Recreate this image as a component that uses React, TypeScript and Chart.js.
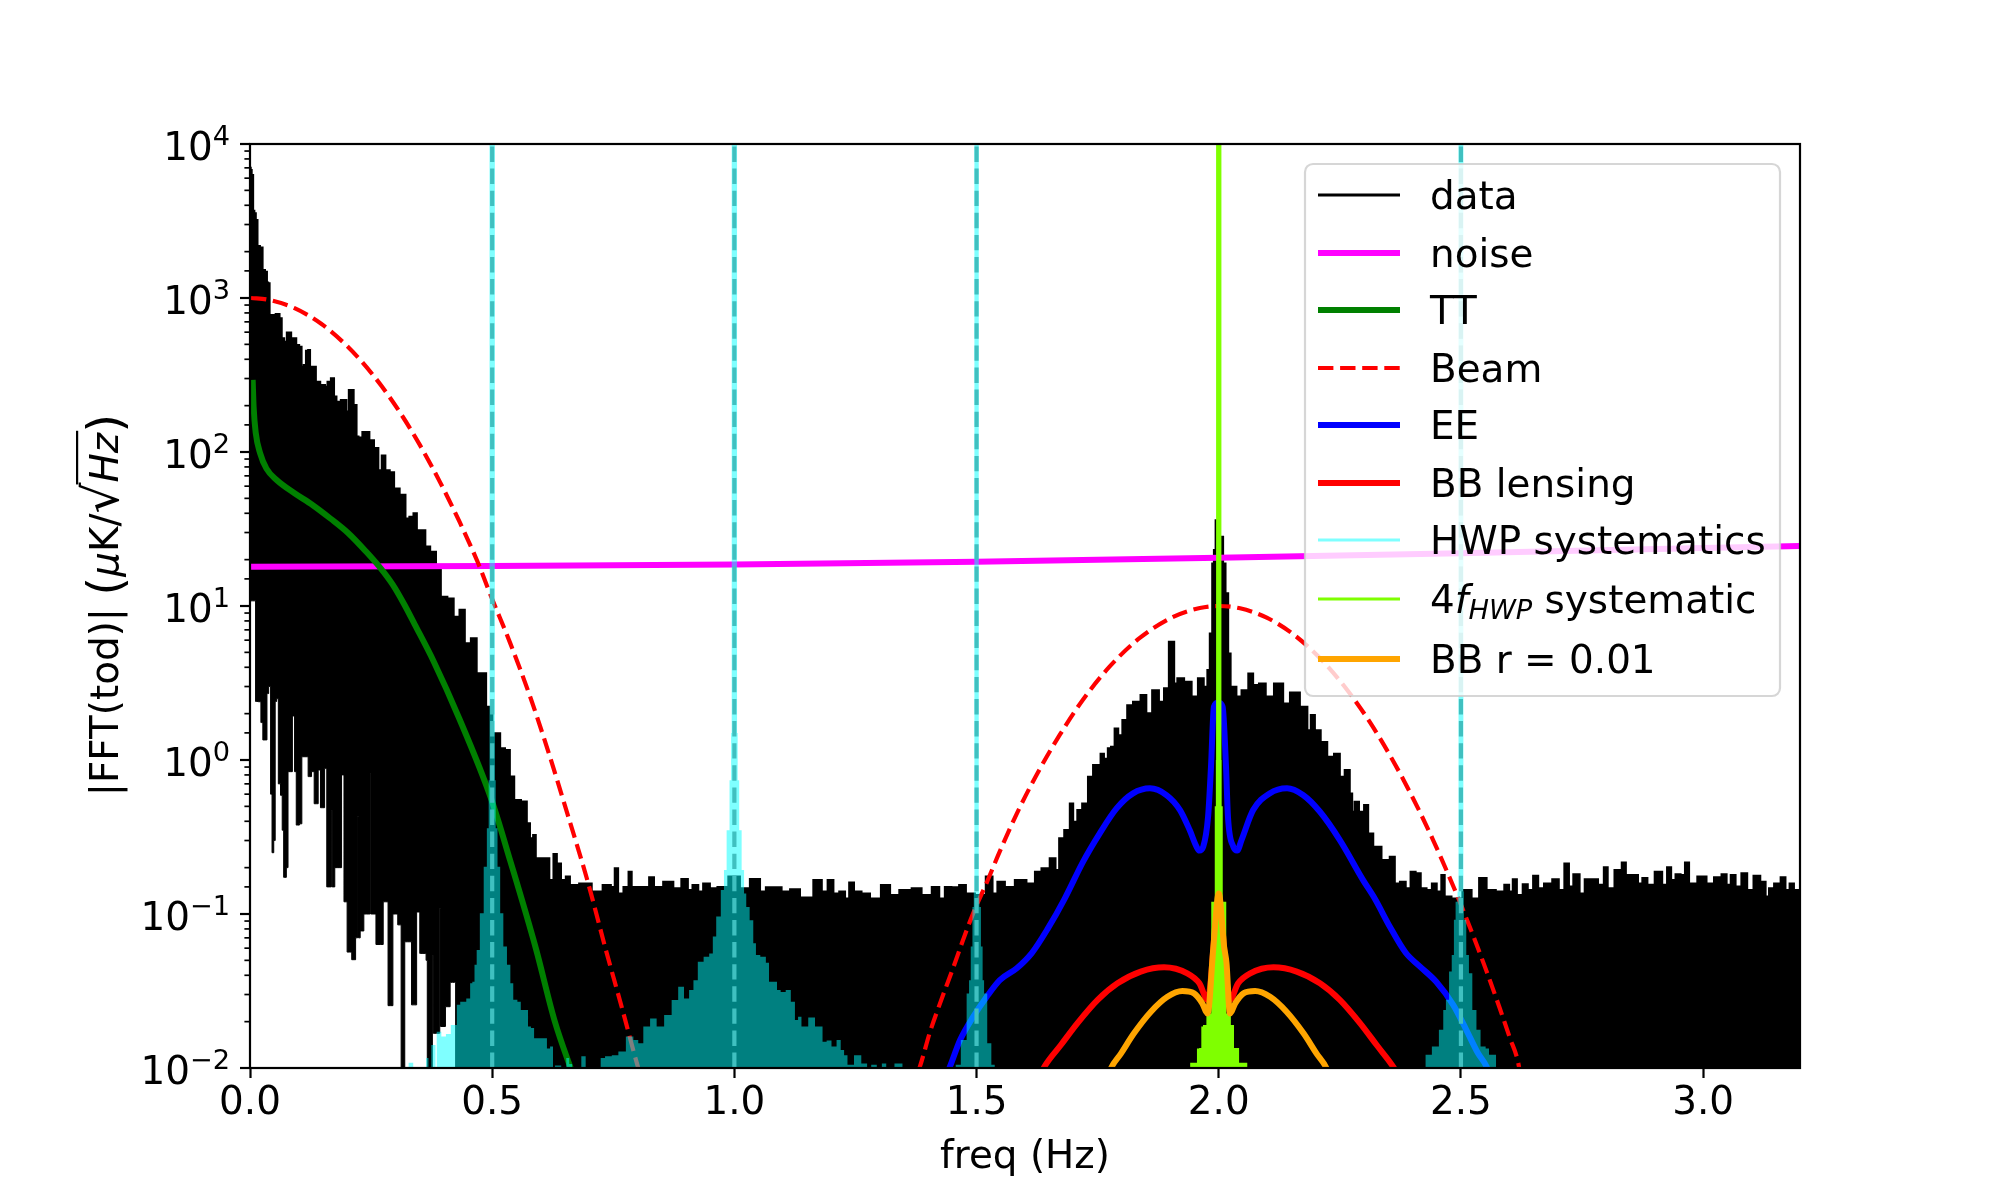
import { useEffect, useRef } from "react"
import Chart from "chart.js/auto"

const FONT = "'DejaVu Sans'"
const FONT_PX = 38.9

// upper edge of the black "data" band
const dataFreq = [
  0.001, 0.002, 0.005, 0.008, 0.010, 0.014, 0.017, 0.024, 0.028, 0.034, 0.036, 0.039, 0.042, 0.048, 0.058, 0.064,
  0.067, 0.074, 0.078, 0.083, 0.087, 0.093, 0.098, 0.105, 0.108, 0.114, 0.117, 0.123, 0.125, 0.134, 0.138, 0.152,
  0.158, 0.162, 0.172, 0.175, 0.182, 0.193, 0.195, 0.196, 0.202, 0.206, 0.213, 0.215, 0.219, 0.221, 0.227, 0.237,
  0.244, 0.249, 0.263, 0.267, 0.277, 0.282, 0.295, 0.300, 0.318, 0.324, 0.334, 0.341, 0.348, 0.359, 0.365, 0.379,
  0.389, 0.399, 0.416, 0.425, 0.440, 0.447, 0.465, 0.471, 0.480, 0.495, 0.506, 0.513, 0.520, 0.533, 0.540, 0.551,
  0.568, 0.575, 0.581, 0.588, 0.592, 0.613, 0.623, 0.630, 0.637, 0.647, 0.657, 0.664, 0.695, 0.716, 0.740, 0.750,
  0.756, 0.764, 0.778, 0.785, 0.791, 0.805, 0.819, 0.829, 0.839, 0.867, 0.881, 0.900, 0.908, 0.919, 0.932, 0.939,
  0.960, 0.970, 1.005, 1.018, 1.046, 1.060, 1.070, 1.087, 1.108, 1.122, 1.149, 1.177, 1.184, 1.201, 1.208, 1.225,
  1.232, 1.242, 1.252, 1.273, 1.287, 1.318, 1.325, 1.356, 1.376, 1.397, 1.418, 1.428, 1.441, 1.455, 1.473, 1.483,
  1.510, 1.528, 1.538, 1.548, 1.569, 1.589, 1.617, 1.624, 1.644, 1.658, 1.668, 1.673, 1.689, 1.696, 1.703, 1.713,
  1.723, 1.737, 1.744, 1.754, 1.758, 1.768, 1.774, 1.781, 1.789, 1.796, 1.806, 1.816, 1.830, 1.847, 1.854, 1.871,
  1.882, 1.892, 1.902, 1.907, 1.909, 1.920, 1.937, 1.951, 1.963, 1.975, 1.978, 1.985, 1.988, 1.992, 1.995, 2.006,
  2.012, 2.016, 2.023, 2.026, 2.033, 2.040, 2.054, 2.068, 2.074, 2.092, 2.102, 2.126, 2.140, 2.154, 2.181, 2.185,
  2.195, 2.202, 2.219, 2.229, 2.247, 2.253, 2.267, 2.274, 2.277, 2.284, 2.295, 2.305, 2.312, 2.326, 2.346, 2.360,
  2.367, 2.381, 2.391, 2.401, 2.412, 2.422, 2.436, 2.444, 2.456, 2.463, 2.470, 2.491, 2.515, 2.529, 2.546, 2.560,
  2.584, 2.595, 2.604, 2.610, 2.621, 2.634, 2.642, 2.656, 2.663, 2.680, 2.697, 2.707, 2.720, 2.726, 2.738, 2.752,
  2.759, 2.776, 2.790, 2.800, 2.806, 2.828, 2.836, 2.845, 2.862, 2.869, 2.880, 2.890, 2.910, 2.921, 2.930, 2.938,
  2.948, 2.959, 2.966, 2.976, 3.000, 3.014, 3.031, 3.045, 3.052, 3.062, 3.072, 3.086, 3.096, 3.112, 3.124, 3.134,
  3.138, 3.155, 3.165, 3.175, 3.182, 3.193, 3.200,
]
const dataTop = [
  7000, 6780, 6300, 3690, 3550, 3210, 2180, 2130, 1520, 1480, 1260, 1245, 776, 776, 787, 738,
  547, 520, 596, 596, 547, 547, 495, 483, 358, 367, 455, 459, 358, 358, 286, 272,
  265, 286, 301, 229, 212, 218, 169, 218, 183, 253, 253, 202, 202, 126, 124, 135,
  135, 119, 106, 76, 95, 76, 74, 58, 52.7, 37, 38, 40, 31, 31, 24.3, 22.5,
  17.6, 11.5, 11.2, 8.53, 9.44, 5.73, 6.17, 3.66, 3.66, 2.22, 1.49, 1.49, 1.19, 1.16, 0.78, 0.55,
  0.537, 0.388, 0.31, 0.326, 0.23, 0.23, 0.166, 0.245, 0.213, 0.166, 0.175, 0.154, 0.158, 0.14, 0.154, 0.15,
  0.198, 0.136, 0.15, 0.188, 0.15, 0.15, 0.15, 0.173, 0.15, 0.162, 0.147, 0.169, 0.143, 0.154, 0.14, 0.158,
  0.147, 0.15, 0.175, 0.147, 0.169, 0.14, 0.149, 0.149, 0.14, 0.145, 0.128, 0.166, 0.14, 0.166, 0.136, 0.14,
  0.126, 0.16, 0.14, 0.136, 0.126, 0.154, 0.133, 0.143, 0.147, 0.133, 0.15, 0.126, 0.15, 0.149, 0.154, 0.136,
  0.133, 0.175, 0.136, 0.162, 0.15, 0.166, 0.158, 0.188, 0.198, 0.23, 0.193, 0.31, 0.351, 0.522, 0.397, 0.473,
  0.522, 0.778, 0.927, 0.927, 1.1, 1.02, 1.19, 1.22, 1.6, 1.45, 1.82, 2.27, 2.39, 2.64, 2.01, 2.84,
  2.39, 2.92, 5.86, 5.86, 3.14, 3.39, 3.22, 2.58, 3.39, 2.99, 3.84, 6.64, 18.9, 23.1, 36.1, 28.2,
  18.9, 12.1, 4.92, 2.99, 2.99, 2.58, 2.84, 3.65, 3.07, 3.14, 2.58, 3.14, 2.33, 2.74, 2.22, 1.56,
  1.96, 1.56, 1.31, 1.05, 1.1, 0.778, 0.861, 0.607, 0.461, 0.536, 0.461, 0.51, 0.333, 0.273, 0.224, 0.235,
  0.158, 0.162, 0.147, 0.188, 0.184, 0.147, 0.143, 0.158, 0.14, 0.179, 0.13, 0.126, 0.143, 0.126, 0.171, 0.143,
  0.14, 0.155, 0.14, 0.168, 0.133, 0.156, 0.143, 0.177, 0.147, 0.158, 0.168, 0.143, 0.213, 0.151, 0.181, 0.136,
  0.168, 0.168, 0.155, 0.201, 0.147, 0.193, 0.216, 0.179, 0.179, 0.158, 0.171, 0.155, 0.188, 0.155, 0.201, 0.166,
  0.181, 0.179, 0.216, 0.158, 0.175, 0.158, 0.173, 0.181, 0.155, 0.179, 0.151, 0.184, 0.143, 0.177, 0.162, 0.13,
  0.147, 0.158, 0.173, 0.143, 0.158, 0.143, 0.143,
]

// lower edge of the same band, the white notches at low frequency
const notchFreq = [
  0.001, 0.010, 0.013, 0.021, 0.024, 0.029, 0.034, 0.036, 0.041, 0.044, 0.047, 0.051, 0.053, 0.057, 0.060, 0.066,
  0.067, 0.072, 0.078, 0.079, 0.087, 0.088, 0.091, 0.093, 0.098, 0.106, 0.108, 0.119, 0.121, 0.126, 0.128, 0.131,
  0.134, 0.140, 0.1415, 0.144, 0.147, 0.153, 0.155, 0.157, 0.160, 0.167, 0.169, 0.170, 0.180, 0.188, 0.190, 0.192,
  0.196, 0.205, 0.215, 0.221, 0.223, 0.225, 0.230, 0.240, 0.2475, 0.249, 0.250, 0.270, 0.280, 0.290, 0.300, 0.310,
  0.314, 0.318, 0.321, 0.330, 0.337, 0.343, 0.345, 0.349, 0.352, 0.362, 0.365, 0.367, 0.376, 0.377, 0.379, 0.391,
  0.3925, 0.394, 0.403, 0.404, 0.413, 0.4135, 0.4225, 0.4265, 3.200,
]
const notchLow = [
  10.8, 10.8, 2.4, 2.39, 1.75, 1.35, 1.35, 2.7, 3.0, 0.6, 0.25, 0.3, 2.4, 2.5, 0.7, 0.59,
  0.35, 0.173, 0.2, 0.84, 0.84, 1.93, 1.93, 0.84, 0.378, 0.385, 1.05, 1.05, 0.78, 0.78, 0.84, 0.84,
  0.52, 0.52, 0.86, 0.86, 0.49, 0.49, 0.88, 0.88, 0.15, 0.15, 0.47, 0.15, 0.2, 0.2, 0.8, 0.8,
  0.12, 0.0566, 0.0505, 0.07, 0.43, 0.07, 0.0776, 0.1, 0.1, 0.82, 0.1, 0.0634, 0.12, 0.0254, 0.1, 0.085,
  0.0095, 0.0095, 0.066, 0.066, 0.0257, 0.0257, 0.103, 0.103, 0.0555, 0.0555, 0.05, 0.0095, 0.0095, 0.054, 0.0168, 0.0168,
  0.109, 0.0186, 0.0186, 0.025, 0.025, 0.036, 0.036, 0.009, 0.009,
]

const noiseFreq = [0, 0.5, 1, 1.5, 2, 2.5, 3, 3.2]
const noiseVals = [18, 18.2, 18.6, 19.4, 20.6, 22, 23.8, 24.5]

const ttFreq = [
  0.0055, 0.0074, 0.012, 0.021, 0.034, 0.055, 0.092, 0.129, 0.166, 0.203, 0.24, 0.267, 0.295, 0.318, 0.34, 0.379,
  0.432, 0.498, 0.537, 0.59, 0.629, 0.662, 0.68,
]
const ttVals = [
  294, 197, 132, 98, 78, 65.8, 54, 45.3, 37, 29.7, 22.5, 18, 13.7, 10.3, 7.6, 4.38,
  1.86, 0.558, 0.223, 0.06, 0.0202, 0.01, 0.007,
]

const beamFreq = [
  0.002, 0.037, 0.092, 0.147, 0.194, 0.23, 0.272, 0.309, 0.35, 0.392, 0.433, 0.47, 0.498, 0.537, 0.577, 0.616,
  0.656, 0.695, 0.735, 0.768, 0.8, 0.814, 1.376, 1.383, 1.404, 1.424, 1.452, 1.473, 1.493, 1.521, 1.548, 1.589,
  1.631, 1.672, 1.72, 1.775, 1.837, 1.906, 1.961, 1.999, 2.044, 2.099, 2.154, 2.209, 2.264, 2.312, 2.36, 2.401,
  2.443, 2.484, 2.501, 2.525, 2.553, 2.58, 2.601, 2.618, 2.625,
]
const beamVals = [
  1000, 975, 859, 680, 510, 389, 267, 182, 112, 64, 35, 19.3, 11.5, 5.76, 2.65, 1.13,
  0.44, 0.172, 0.058, 0.0245, 0.0104, 0.0075, 0.009, 0.0102, 0.0172, 0.026, 0.045, 0.069, 0.101, 0.16, 0.255, 0.49,
  0.88, 1.46, 2.47, 4.05, 6.2, 8.5, 9.7, 10, 9.66, 8.4, 6.55, 4.58, 2.88, 1.76, 0.986, 0.565,
  0.3, 0.152, 0.113, 0.0726, 0.0424, 0.0245, 0.0157, 0.0109, 0.008,
]

const eeFreq = [
  1.43, 1.445, 1.466, 1.493, 1.521, 1.548, 1.583, 1.614, 1.647, 1.682, 1.72, 1.754, 1.789, 1.823, 1.858, 1.892,
  1.92, 1.94, 1.954, 1.96, 1.968, 1.978, 1.984, 1.99, 1.999, 2.008, 2.015, 2.019, 2.03, 2.038, 2.047, 2.071,
  2.105, 2.141, 2.174, 2.209, 2.25, 2.298, 2.322, 2.353, 2.386, 2.415, 2.449, 2.484, 2.511, 2.535, 2.553, 2.565,
]
const eeVals = [
  0.008, 0.0102, 0.0152, 0.0215, 0.029, 0.0372, 0.0444, 0.0557, 0.0803, 0.126, 0.219, 0.333, 0.485, 0.607, 0.655, 0.592,
  0.473, 0.351, 0.274, 0.258, 0.274, 0.429, 0.904, 2.22, 2.36, 2.22, 0.904, 0.429, 0.274, 0.258, 0.302, 0.473,
  0.607, 0.655, 0.592, 0.461, 0.302, 0.166, 0.126, 0.083, 0.056, 0.0457, 0.0363, 0.0257, 0.0177, 0.0125, 0.0102, 0.008,
]

const lensFreq = [
  1.63, 1.64, 1.674, 1.708, 1.75, 1.791, 1.839, 1.887, 1.935, 1.96, 1.977, 2, 2.023, 2.04, 2.065, 2.113,
  2.161, 2.209, 2.25, 2.292, 2.326, 2.36, 2.37,
]
const lensVals = [
  0.0088, 0.0102, 0.0141, 0.0195, 0.0277, 0.0355, 0.0423, 0.0451, 0.0412, 0.0355, 0.0277, 0.12, 0.0277, 0.0355, 0.0412, 0.0451,
  0.0423, 0.0355, 0.0277, 0.0195, 0.0141, 0.0102, 0.009,
]

// HWP lines, drawn as one filled outline
const hwpFreq = [
  0.325, 0.33, 0.336, 0.338, 0.362, 0.365, 0.372, 0.3735, 0.375, 0.382, 0.384, 0.387, 0.394, 0.396, 0.413, 0.416,
  0.426, 0.428, 0.44, 0.453, 0.456, 0.462, 0.465, 0.471, 0.478, 0.487, 0.491, 0.4945, 0.4945, 0.5055, 0.5055, 0.509, 0.513, 0.52,
  0.526, 0.535, 0.54, 0.547, 0.557, 0.561, 0.573, 0.575, 0.585, 0.588, 0.612, 0.614, 0.625, 0.626, 0.633, 0.652,
  0.654, 0.664, 0.666, 0.683, 0.685, 0.692, 0.694, 0.709, 0.722, 0.726, 0.74, 0.754, 0.767, 0.785, 0.798, 0.805, 0.819,
  0.833, 0.846, 0.864, 0.877, 0.891, 0.901, 0.912, 0.919, 0.93, 0.943, 0.953, 0.958, 0.967, 0.977, 0.98, 0.988,
  0.992, 0.9945, 0.9945, 1.0055, 1.0055, 1.008, 1.012, 1.018, 1.022, 1.027, 1.036, 1.042, 1.047, 1.06, 1.07, 1.073,
  1.086, 1.09, 1.101, 1.111, 1.122, 1.128, 1.135, 1.142, 1.163, 1.17, 1.18, 1.184, 1.197, 1.204, 1.218, 1.221,
  1.232, 1.235, 1.259, 1.265, 1.273, 1.275, 1.29, 1.298, 1.311, 1.316, 1.345, 1.349, 1.455, 1.459, 1.476, 1.483,
  1.486, 1.49, 1.493, 1.4955, 1.4955, 1.5045, 1.5045, 1.507, 1.511, 1.514, 1.517, 1.527, 1.534, 1.541, 2.425, 2.429,
  2.439, 2.441, 2.453, 2.456, 2.462, 2.465, 2.473, 2.478, 2.484, 2.487, 2.491, 2.495, 2.495, 2.505, 2.505, 2.507,
  2.515, 2.518, 2.529, 2.535, 2.546, 2.556, 2.56, 2.572, 2.573,
]
const hwpVals = [
  0.0095, 0.0108, 0.0108, 0.0095, 0.0095, 0.0116, 0.0095, 0.0095, 0.0141, 0.0141, 0.0095, 0.0172, 0.0172, 0.016, 0.0166, 0.019,
  0.019, 0.0257, 0.0269, 0.0283, 0.0355, 0.0363, 0.0468, 0.0583, 0.101, 0.203, 0.36, 0.74, 20000, 20000, 0.74, 0.36, 0.203, 0.101,
  0.0614, 0.0468, 0.0355, 0.0277, 0.0269, 0.0238, 0.0238, 0.0186, 0.0182, 0.0156, 0.0156, 0.0134, 0.0138, 0.0095, 0.0104, 0.0095,
  0.0116, 0.0106, 0.0095, 0.0095, 0.0119, 0.0119, 0.0095, 0.0095, 0.0095, 0.0116, 0.0119, 0.0121, 0.0128, 0.016, 0.0152, 0.0145, 0.0186,
  0.021, 0.0186, 0.0221, 0.0276, 0.0337, 0.0283, 0.0321, 0.0372, 0.049, 0.0528, 0.0555, 0.0713, 0.0962, 0.143, 0.193, 0.35,
  0.74, 1.5, 20000, 20000, 1.5, 0.74, 0.35, 0.193, 0.136, 0.111, 0.0912, 0.0646, 0.0542, 0.0528, 0.0483, 0.0363,
  0.0363, 0.0321, 0.0312, 0.0321, 0.0269, 0.0205, 0.0215, 0.0186, 0.0213, 0.0186, 0.0186, 0.0148, 0.0151, 0.0138, 0.0152, 0.0131,
  0.0121, 0.0105, 0.0121, 0.0107, 0.0107, 0.009, 0.0105, 0.009, 0.0107, 0.009, 0.0107, 0.009, 0.009, 0.0105, 0.0152, 0.0305,
  0.0372, 0.0614, 0.111, 0.14, 20000, 20000, 0.14, 0.111, 0.0614, 0.0372, 0.0305, 0.0145, 0.0105, 0.0096, 0.009, 0.0122,
  0.0122, 0.0138, 0.0138, 0.0177, 0.0177, 0.0238, 0.0277, 0.0423, 0.0542, 0.0916, 0.12, 0.14, 20000, 20000, 0.14, 0.0916,
  0.0542, 0.0412, 0.0238, 0.0177, 0.0138, 0.0134, 0.0122, 0.0122, 0.009,
]

const fourFFreq = [
  1.94, 1.942, 1.954, 1.956, 1.963, 1.965, 1.97, 1.979, 1.99, 1.9935, 1.9945, 1.9945, 2.0055, 2.0055, 2.0065, 2.01,
  2.021, 2.029, 2.034, 2.04, 2.044, 2.058, 2.06,
]
const fourFVals = [
  0.009, 0.0108, 0.0108, 0.0134, 0.0135, 0.0186, 0.019, 0.0226, 0.12, 0.5, 1, 20000, 20000, 1, 0.5, 0.12,
  0.0226, 0.019, 0.0135, 0.0135, 0.0108, 0.0108, 0.009,
]

const bbrFreq = [
  1.77, 1.777, 1.798, 1.825, 1.86, 1.894, 1.925, 1.949, 1.966, 1.977, 1.989, 2, 2.011, 2.016, 2.023, 2.034,
  2.051, 2.075, 2.106, 2.14, 2.175, 2.202, 2.223, 2.23,
]
const bbrVals = [
  0.0085, 0.0099, 0.0124, 0.0168, 0.0232, 0.029, 0.0316, 0.0305, 0.0263, 0.0226, 0.0614, 0.136, 0.0614, 0.048, 0.0226, 0.0263,
  0.0305, 0.0316, 0.029, 0.0232, 0.0168, 0.0124, 0.0099, 0.0085,
]

const vlineFreq = [0.5, 1, 1.5, 2.5]
const yRange = [0.01, 10000]
const freqRange = [0, 3.2]
const xTickVals = [0, 0.5, 1, 1.5, 2, 2.5, 3]
const yTickExps = ["\u22122", "\u22121", "0", "1", "2", "3", "4"]

const legendLabels = ["data", "noise", "TT", "Beam", "EE", "BB lensing", "HWP systematics", "4f_HWP", "BB r = 0.01"]
const legendColors = ["#000000", "#ff00ff", "#008000", "#ff0000", "#0000ff", "#ff0000", "rgba(0,255,255,0.5)", "#7fff00", "#ffa500"]
const legendWidths = [3, 6, 6, 4.2, 6, 6, 3, 3, 6]
const legendRows = [195, 253, 310, 368, 425, 483, 540, 599, 659]

const pts = (xs: number[], ys: number[]) => xs.map((x, i) => ({ x, y: ys[i] }))

function lineSet(label: string, xs: number[], ys: number[], color: string, width: number, extra: object = {}) {
  return {
    label,
    data: pts(xs, ys),
    borderColor: color,
    backgroundColor: color,
    borderWidth: width,
    pointRadius: 0,
    clip: 0,
    ...extra,
  }
}

const smooth = { cubicInterpolationMode: "monotone" }
const blocky = { stepped: "middle" }

function drawYTitle(ctx: CanvasRenderingContext2D) {
  const normal = `${FONT_PX}px ${FONT}`
  const italic = `italic ${FONT_PX}px ${FONT}`
  const big = `${FONT_PX * 1.25}px ${FONT}`
  const parts: [string, string][] = [
    ["|FFT(tod)|", normal],
    [" ", normal],
    ["(", big],
    ["\u03BC", italic],
    ["K/", normal],
    ["\u221A", big],
    ["Hz", italic],
    [")", big],
  ]
  const widths = parts.map(([t, f]) => {
    ctx.font = f
    return ctx.measureText(t).width
  })
  const total = widths.reduce((a, b) => a + b, 0)
  ctx.save()
  ctx.translate(118, 605)
  ctx.rotate(-Math.PI / 2)
  ctx.fillStyle = "#000"
  ctx.textAlign = "left"
  ctx.textBaseline = "alphabetic"
  let x = -total / 2
  parts.forEach(([t, f], i) => {
    ctx.font = f
    ctx.fillText(t, x, f === big && t !== "\u221A" ? 4 : 0)
    if (t === "Hz") {
      ctx.fillRect(x - 2, -42, widths[i] + 4, 2.2)
    }
    x += widths[i]
  })
  ctx.restore()
}

function drawYTicks(ctx: CanvasRenderingContext2D, scale: any, left: number) {
  ctx.save()
  ctx.strokeStyle = "#000"
  ctx.fillStyle = "#000"
  ctx.textBaseline = "alphabetic"
  ctx.textAlign = "left"
  scale.ticks.forEach((t: any) => {
    const y = scale.getPixelForValue(t.value)
    const e = Math.round(Math.log10(t.value))
    const major = Math.abs(Math.log10(t.value) - e) < 1e-6
    ctx.lineWidth = major ? 2.2 : 1.7
    ctx.beginPath()
    ctx.moveTo(left, y)
    ctx.lineTo(left - (major ? 10 : 5.6), y)
    ctx.stroke()
    if (major) {
      const sup = yTickExps[e + 2]
      ctx.font = `${FONT_PX * 0.7}px ${FONT}`
      const supW = ctx.measureText(sup).width
      ctx.fillText(sup, 230 - supW, y + 1)
      ctx.font = `${FONT_PX}px ${FONT}`
      ctx.fillText("10", 230 - supW - ctx.measureText("10").width, y + 15.5)
    }
  })
  ctx.restore()
}

function drawLegend(ctx: CanvasRenderingContext2D) {
  ctx.save()
  ctx.beginPath()
  ctx.roundRect(1305, 164, 475, 532, 8)
  ctx.fillStyle = "rgba(255,255,255,0.8)"
  ctx.fill()
  ctx.lineWidth = 2.2
  ctx.strokeStyle = "rgba(204,204,204,0.8)"
  ctx.stroke()
  legendLabels.forEach((label, i) => {
    const y = legendRows[i]
    ctx.beginPath()
    ctx.moveTo(1318, y)
    ctx.lineTo(1400, y)
    ctx.lineWidth = legendWidths[i]
    ctx.strokeStyle = legendColors[i]
    ctx.setLineDash(label === "Beam" ? [15.4, 6.7] : [])
    ctx.stroke()
    ctx.setLineDash([])
    ctx.fillStyle = "#000"
    ctx.textAlign = "left"
    ctx.textBaseline = "alphabetic"
    const base = y + 13.5
    if (label === "4f_HWP") {
      let x = 1430
      const run = (t: string, f: string, dy: number) => {
        ctx.font = f
        ctx.fillText(t, x, base + dy)
        x += ctx.measureText(t).width
      }
      run("4", `${FONT_PX}px ${FONT}`, 0)
      run("f", `italic ${FONT_PX}px ${FONT}`, 0)
      run("HWP", `italic ${FONT_PX * 0.7}px ${FONT}`, 6)
      run(" systematic", `${FONT_PX}px ${FONT}`, 0)
    } else {
      ctx.font = `${FONT_PX}px ${FONT}`
      ctx.fillText(label, 1430, base)
    }
  })
  ctx.restore()
}

const framePlugin = {
  id: "frame",
  afterDatasetsDraw(chart: any) {
    const { ctx, chartArea: a, scales } = chart
    ctx.save()
    ctx.strokeStyle = "#000"
    ctx.lineWidth = 2.2
    ctx.strokeRect(a.left, a.top, a.right - a.left, a.bottom - a.top)
    ctx.restore()
    drawYTicks(ctx, scales.y, a.left)
    drawYTitle(ctx)
    drawLegend(ctx)
  },
}

export default function App() {
  const chartRef = useRef<HTMLCanvasElement>(null)
  const chartInstance = useRef<Chart | null>(null)

  useEffect(() => {
    document.body.style.margin = "0"
    if (!chartRef.current) return
    const ctx = chartRef.current.getContext("2d")
    if (!ctx) return

    const sets: any[] = [
      lineSet("data", dataFreq, dataTop, "#000000", 2, { ...blocky, fill: { target: 1, above: "#000000", below: "#000000" } }),
      lineSet("notch", notchFreq, notchLow, "#000000", 1, blocky),
      lineSet("noise", noiseFreq, noiseVals, "#ff00ff", 6),
      lineSet("TT", ttFreq, ttVals, "#008000", 6, smooth),
      lineSet("Beam", beamFreq, beamVals, "#ff0000", 4.2, { ...smooth, borderDash: [15.4, 6.7] }),
      lineSet("EE", eeFreq, eeVals, "#0000ff", 6, smooth),
      lineSet("BB lensing", lensFreq, lensVals, "#ff0000", 6, smooth),
      lineSet("HWP systematics", hwpFreq, hwpVals, "rgba(0,255,255,0.5)", 0, { ...blocky, fill: "start" }),
      ...vlineFreq.map((f) =>
        lineSet("line " + f, [f, f], yRange, "rgb(64,192,192)", 4.2, { borderDash: [15.4, 6.7] })
      ),
      lineSet("4f", fourFFreq, fourFVals, "#7fff00", 0, { ...blocky, fill: "start" }),
      lineSet("BB r", bbrFreq, bbrVals, "#ffa500", 6, smooth),
    ]
    sets.forEach((s, i) => {
      s.order = sets.length - i
    })

    chartInstance.current = new Chart(ctx, {
      type: "line",
      data: { datasets: sets },
      plugins: [framePlugin],
      options: {
        responsive: false,
        animation: false,
        devicePixelRatio: 1,
        layout: { padding: { left: 0, top: 144, right: 200, bottom: 0 } },
        plugins: { legend: { display: false }, tooltip: { enabled: false }, title: { display: false } },
        scales: {
          x: {
            type: "linear",
            min: freqRange[0],
            max: freqRange[1],
            border: { display: false },
            grid: { drawOnChartArea: false, tickLength: 10, tickWidth: 2.2, tickColor: "#000" },
            afterBuildTicks: (s: any) => {
              s.ticks = xTickVals.map((value) => ({ value }))
            },
            ticks: {
              autoSkip: false,
              padding: 3,
              color: "#000",
              maxRotation: 0,
              font: { family: FONT, size: FONT_PX, lineHeight: 1.2 },
              callback: (v: any) => Number(v).toFixed(1),
            },
            title: {
              display: true,
              text: "freq (Hz)",
              color: "#000",
              font: { family: FONT, size: FONT_PX, lineHeight: 1.2 },
              padding: { top: 0, bottom: 19 },
            },
            afterFit: (s: any) => {
              s.height = 132
              s.paddingLeft = 0
              s.paddingRight = 0
            },
          },
          y: {
            type: "logarithmic",
            min: yRange[0],
            max: yRange[1],
            border: { display: false },
            grid: { display: false, drawTicks: false },
            ticks: { display: false, autoSkip: false },
            afterFit: (s: any) => {
              s.width = 250
              s.paddingTop = 0
              s.paddingBottom = 0
            },
          },
        },
      },
    })

    return () => {
      if (chartInstance.current) {
        chartInstance.current.destroy()
      }
    }
  }, [])

  return <canvas ref={chartRef} width={2000} height={1200} style={{ display: "block" }} />
}
